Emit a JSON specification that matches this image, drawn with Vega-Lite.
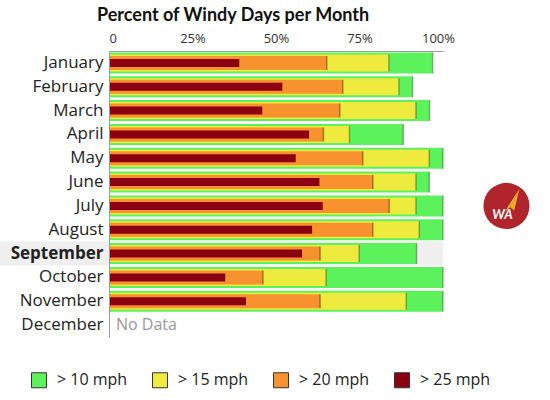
{
  "$schema": "https://vega.github.io/schema/vega-lite/v6.json",
  "autosize": "none",
  "width": 334,
  "height": 286,
  "padding": {"left": 109, "top": 51, "right": 107, "bottom": 63},
  "background": "white",
  "config": {
    "font": "Open Sans",
    "view": {"stroke": null},
    "axis": {"ticks": false, "grid": false, "domainColor": "#9a9a9a", "domainWidth": 1}
  },
  "title": {
    "text": "Percent of Windy Days per Month",
    "anchor": "start",
    "frame": "group",
    "font": "Lato",
    "fontSize": 18,
    "fontWeight": "bold",
    "color": "#111111",
    "dx": -12,
    "offset": 7
  },
  "datasets": {
    "windy": [
      {"month": "January", "level": "> 10 mph", "pct": 96.9},
      {"month": "January", "level": "> 15 mph", "pct": 83.8},
      {"month": "January", "level": "> 20 mph", "pct": 65.2},
      {"month": "January", "level": "> 25 mph", "pct": 39.0},
      {"month": "February", "level": "> 10 mph", "pct": 90.9},
      {"month": "February", "level": "> 15 mph", "pct": 86.8},
      {"month": "February", "level": "> 20 mph", "pct": 70.0},
      {"month": "February", "level": "> 25 mph", "pct": 51.9},
      {"month": "March", "level": "> 10 mph", "pct": 96.0},
      {"month": "March", "level": "> 15 mph", "pct": 91.9},
      {"month": "March", "level": "> 20 mph", "pct": 69.1},
      {"month": "March", "level": "> 25 mph", "pct": 45.9},
      {"month": "April", "level": "> 10 mph", "pct": 88.1},
      {"month": "April", "level": "> 15 mph", "pct": 72.0},
      {"month": "April", "level": "> 20 mph", "pct": 64.2},
      {"month": "April", "level": "> 25 mph", "pct": 59.9},
      {"month": "May", "level": "> 10 mph", "pct": 100},
      {"month": "May", "level": "> 15 mph", "pct": 95.9},
      {"month": "May", "level": "> 20 mph", "pct": 76.0},
      {"month": "May", "level": "> 25 mph", "pct": 55.9},
      {"month": "June", "level": "> 10 mph", "pct": 95.9},
      {"month": "June", "level": "> 15 mph", "pct": 91.9},
      {"month": "June", "level": "> 20 mph", "pct": 79.0},
      {"month": "June", "level": "> 25 mph", "pct": 63.0},
      {"month": "July", "level": "> 10 mph", "pct": 100},
      {"month": "July", "level": "> 15 mph", "pct": 91.9},
      {"month": "July", "level": "> 20 mph", "pct": 83.9},
      {"month": "July", "level": "> 25 mph", "pct": 64.0},
      {"month": "August", "level": "> 10 mph", "pct": 100},
      {"month": "August", "level": "> 15 mph", "pct": 92.9},
      {"month": "August", "level": "> 20 mph", "pct": 79.0},
      {"month": "August", "level": "> 25 mph", "pct": 60.8},
      {"month": "September", "level": "> 10 mph", "pct": 92.1},
      {"month": "September", "level": "> 15 mph", "pct": 74.9},
      {"month": "September", "level": "> 20 mph", "pct": 63.2},
      {"month": "September", "level": "> 25 mph", "pct": 57.8},
      {"month": "October", "level": "> 10 mph", "pct": 100},
      {"month": "October", "level": "> 15 mph", "pct": 65.0},
      {"month": "October", "level": "> 20 mph", "pct": 46.1},
      {"month": "October", "level": "> 25 mph", "pct": 34.8},
      {"month": "November", "level": "> 10 mph", "pct": 100},
      {"month": "November", "level": "> 15 mph", "pct": 89.0},
      {"month": "November", "level": "> 20 mph", "pct": 63.2},
      {"month": "November", "level": "> 25 mph", "pct": 41.0}
    ],
    "notes": [
      {"month": "December", "note": "No Data"}
    ]
  },
  "data": {"name": "windy"},
  "encoding": {
    "y": {
      "field": "month",
      "type": "nominal",
      "title": null,
      "scale": {
        "domain": ["January", "February", "March", "April", "May", "June", "July", "August", "September", "October", "November", "December"],
        "paddingInner": 0,
        "paddingOuter": 0
      },
      "axis": {
        "zindex": 1,
        "labelFontSize": 17,
        "labelColor": "#222222",
        "labelPadding": 6,
        "labelFontWeight": {"condition": {"test": "datum.value == 'September'", "value": "bold"}, "value": "normal"}
      }
    }
  },
  "layer": [
    {
      "transform": [{"filter": "datum.month == 'September' && datum.level == '> 10 mph'"}],
      "mark": {"type": "bar", "color": "#efefef", "size": 24, "clip": false},
      "encoding": {
        "x": {"datum": -32.6, "type": "quantitative"},
        "x2": {"datum": 100}
      }
    },
    {
      "encoding": {
        "x": {
          "field": "pct",
          "type": "quantitative",
          "title": null,
          "scale": {"domain": [0, 100], "nice": false},
          "axis": {
            "orient": "top",
            "values": [0, 25, 50, 75, 100],
            "labelExpr": "datum.value == 0 ? '0' : datum.value + '%'",
            "labelAlign": {"condition": {"test": "datum.value == 0", "value": "left"}, "value": "center"},
            "labelOffset": {"condition": {"test": "datum.value == 100", "value": -5}, "value": 0},
            "labelFontSize": 13,
            "labelColor": "#333333",
            "labelPadding": 6
          }
        }
      },
      "layer": [
        {
          "transform": [{"filter": "datum.level == '> 10 mph'"}],
          "layer": [
            {
              "mark": {"type": "bar", "size": 21},
              "encoding": {
                "color": {
                  "field": "level",
                  "type": "nominal",
                  "scale": {"domain": ["> 10 mph", "> 15 mph", "> 20 mph", "> 25 mph"], "range": ["#5cf25c", "#eeea3e", "#f7922f", "#8a0012"]},
                  "legend": {
                    "orient": "none", "legendX": -78, "legendY": 321, "direction": "horizontal", "title": null,
                    "symbolType": "square", "symbolSize": 225, "symbolStrokeColor": "#333333", "symbolStrokeWidth": 1,
                    "labelFontSize": 16, "labelColor": "#222222", "labelOffset": 10, "columnPadding": 22
                  }
                }
              }
            },
            {"mark": {"type": "tick", "size": 21, "thickness": 1.5, "color": "#000000", "opacity": 0.3}}
          ]
        },
        {
          "transform": [{"filter": "datum.level == '> 15 mph'"}],
          "layer": [
            {
              "mark": {"type": "bar", "size": 17},
              "encoding": {
                "color": {
                  "field": "level",
                  "type": "nominal",
                  "scale": {"domain": ["> 10 mph", "> 15 mph", "> 20 mph", "> 25 mph"], "range": ["#5cf25c", "#eeea3e", "#f7922f", "#8a0012"]}
                }
              }
            },
            {"mark": {"type": "tick", "size": 17, "thickness": 1.5, "color": "#000000", "opacity": 0.3}}
          ]
        },
        {
          "transform": [{"filter": "datum.level == '> 20 mph'"}],
          "layer": [
            {
              "mark": {"type": "bar", "size": 14},
              "encoding": {
                "color": {
                  "field": "level",
                  "type": "nominal",
                  "scale": {"domain": ["> 10 mph", "> 15 mph", "> 20 mph", "> 25 mph"], "range": ["#5cf25c", "#eeea3e", "#f7922f", "#8a0012"]}
                }
              }
            },
            {"mark": {"type": "tick", "size": 14, "thickness": 1.5, "color": "#000000", "opacity": 0.35}}
          ]
        },
        {
          "transform": [{"filter": "datum.level == '> 25 mph'"}],
          "mark": {"type": "bar", "size": 8},
          "encoding": {
            "color": {
              "field": "level",
              "type": "nominal",
              "scale": {"domain": ["> 10 mph", "> 15 mph", "> 20 mph", "> 25 mph"], "range": ["#5cf25c", "#eeea3e", "#f7922f", "#8a0012"]}
            }
          }
        }
      ]
    },
    {
      "data": {"name": "notes"},
      "mark": {"type": "text", "align": "left", "baseline": "middle", "dx": 7, "fontSize": 16, "color": "#999999"},
      "encoding": {
        "x": {"datum": 0, "type": "quantitative"},
        "text": {"field": "note"}
      }
    },
    {
      "transform": [{"filter": "datum.month == 'July' && datum.level == '> 10 mph'"}],
      "encoding": {
        "x": {"datum": 119, "type": "quantitative"}
      },
      "layer": [
        {"mark": {"type": "point", "shape": "circle", "filled": true, "size": 2124, "color": "#b0242c", "opacity": 1}},
        {"mark": {"type": "point", "shape": "M0.5,-0.66 L-0.06,0.22 L0.13,0.04 Z", "filled": true, "size": 2704, "color": "#f8cf4a", "opacity": 1}},
        {"mark": {"type": "point", "shape": "M0.5,-0.66 L0.13,0.04 L0.3,0.18 Z", "filled": true, "size": 2704, "color": "#eea928", "opacity": 1}},
        {
          "mark": {"type": "text", "dx": -4, "dy": 9, "font": "Lato", "fontSize": 13, "fontWeight": "bold", "fontStyle": "italic", "color": "white"},
          "encoding": {"text": {"value": "WA"}}
        }
      ]
    }
  ]
}
